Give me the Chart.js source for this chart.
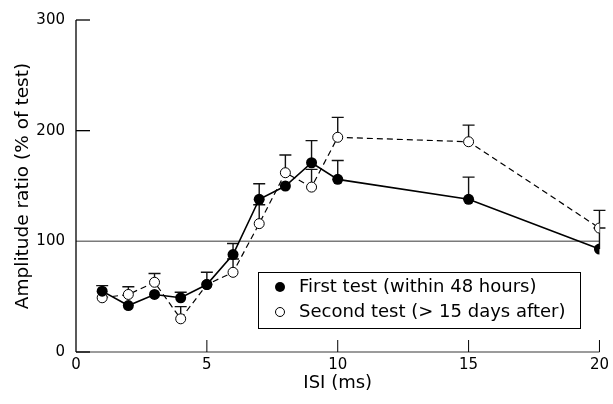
<!DOCTYPE html>
<html>
<head>
<meta charset="utf-8">
<script src="https://cdn.jsdelivr.net/npm/chart.js@4/dist/chart.umd.min.js"></script>
<style>
  html, body { margin: 0; padding: 0; background: #fff; }
  canvas { display: block; }
</style>
</head>
<body>
<canvas id="c" width="613" height="404"></canvas>
<script>
// ---- data ----
const isi = [1, 2, 3, 4, 5, 6, 7, 8, 9, 10, 15, 20];
const firstTest = [55, 42, 52, 49, 61, 88, 138, 150, 171, 156, 138, 93];
const firstErr  = [5, 0, 0, 5, 0, 10, 14, 0, 20, 17, 20, 19];
const secondTest = [49, 52, 63, 30, 61, 72, 116, 162, 149, 194, 190, 112];
const secondErr  = [0, 7, 8, 11, 11, 12, 17, 16, 16, 18, 15, 16];
const xTicks = [0, 5, 10, 15, 20];
const yTicks = [0, 100, 200, 300];
const legendLabels = ['First test (within 48 hours)', 'Second test (> 15 days after)'];
const xTitle = 'ISI (ms)';
const yTitle = 'Amplitude ratio (% of test)';

const FONT = "'DejaVu Sans', sans-serif";
const toPts = (xs, ys) => xs.map((x, i) => ({ x: x, y: ys[i] }));

const decorPlugin = {
  id: 'decor',
  beforeDatasetsDraw(chart) {
    const { ctx, chartArea: a, scales: { x, y } } = chart;
    ctx.save();
    // x axis line (gray)
    ctx.strokeStyle = '#7a7a7a';
    ctx.lineWidth = 1.5;
    ctx.beginPath();
    ctx.moveTo(a.left, y.getPixelForValue(0));
    ctx.lineTo(a.right, y.getPixelForValue(0));
    ctx.stroke();
    // reference line at 100
    ctx.beginPath();
    ctx.moveTo(a.left, y.getPixelForValue(100));
    ctx.lineTo(a.right, y.getPixelForValue(100));
    ctx.stroke();
    // y axis line
    ctx.strokeStyle = '#000';
    ctx.lineWidth = 1.3;
    ctx.beginPath();
    ctx.moveTo(a.left, y.getPixelForValue(300));
    ctx.lineTo(a.left, y.getPixelForValue(0));
    ctx.stroke();
    // y ticks (inward)
    yTicks.forEach(v => {
      if (v === 100) return;
      const py = y.getPixelForValue(v);
      ctx.beginPath();
      ctx.moveTo(a.left, py);
      ctx.lineTo(a.left + 14, py);
      ctx.stroke();
    });
    // x ticks (inward)
    ctx.lineWidth = 1;
    xTicks.forEach(v => {
      if (v === 0) return;
      const px = x.getPixelForValue(v);
      ctx.beginPath();
      ctx.moveTo(px, y.getPixelForValue(0));
      ctx.lineTo(px, y.getPixelForValue(0) - 12);
      ctx.stroke();
    });
    // error bars (upper only, T caps)
    const drawErr = (vals, errs) => {
      ctx.strokeStyle = '#111';
      ctx.lineWidth = 1.4;
      vals.forEach((v, i) => {
        if (!errs[i]) return;
        const px = x.getPixelForValue(isi[i]);
        const py0 = y.getPixelForValue(v);
        const py1 = y.getPixelForValue(v + errs[i]);
        ctx.beginPath();
        ctx.moveTo(px, py0);
        ctx.lineTo(px, py1);
        ctx.moveTo(px - 6, py1);
        ctx.lineTo(px + 6, py1);
        ctx.stroke();
      });
    };
    drawErr(secondTest, secondErr);
    drawErr(firstTest, firstErr);
    ctx.restore();
  },
  afterDraw(chart) {
    const { ctx } = chart;
    ctx.save();
    // legend box
    const bx = 258, by = 272, bw = 322, bh = 56;
    ctx.fillStyle = '#fff';
    ctx.fillRect(bx, by, bw, bh);
    ctx.strokeStyle = '#000';
    ctx.lineWidth = 1;
    ctx.strokeRect(bx + 0.5, by + 0.5, bw, bh);
    ctx.font = '18px ' + FONT;
    ctx.textBaseline = 'middle';
    ctx.fillStyle = '#000';
    const rows = [287, 312];
    // marker 1 filled
    ctx.beginPath();
    ctx.arc(280, rows[0], 5, 0, Math.PI * 2);
    ctx.fill();
    // marker 2 open
    ctx.beginPath();
    ctx.arc(280, rows[1], 4.5, 0, Math.PI * 2);
    ctx.fillStyle = '#fff';
    ctx.fill();
    ctx.strokeStyle = '#000';
    ctx.lineWidth = 1;
    ctx.stroke();
    ctx.fillStyle = '#000';
    ctx.fillText(legendLabels[0], 299, rows[0]);
    ctx.fillText(legendLabels[1], 299, rows[1]);
    ctx.restore();
  }
};

new Chart(document.getElementById('c'), {
  type: 'scatter',
  data: {
    datasets: [
      {
        label: legendLabels[1],
        data: toPts(isi, secondTest),
        showLine: true,
        borderColor: '#000',
        borderWidth: 1.2,
        borderDash: [6, 4],
        pointRadius: 5,
        pointBackgroundColor: '#fff',
        pointBorderColor: '#000',
        pointBorderWidth: 1,
        order: 2
      },
      {
        label: legendLabels[0],
        data: toPts(isi, firstTest),
        showLine: true,
        borderColor: '#000',
        borderWidth: 1.6,
        pointRadius: 5.5,
        pointBackgroundColor: '#000',
        pointBorderColor: '#000',
        pointBorderWidth: 0,
        order: 1
      }
    ]
  },
  options: {
    responsive: false,
    animation: false,
    events: [],
    layout: { padding: { top: 18, right: 9, left: 0, bottom: 0 } },
    plugins: { legend: { display: false }, tooltip: { enabled: false } },
    scales: {
      x: {
        type: 'linear',
        min: 0, max: 20,
        afterBuildTicks: s => { s.ticks = xTicks.map(v => ({ value: v })); },
        afterFit: s => { s.height = 52; },
        grid: { display: false, drawTicks: false },
        border: { display: false },
        ticks: { color: '#000', font: { size: 15, family: FONT }, padding: 4, maxRotation: 0 },
        title: { display: true, text: xTitle, color: '#000', font: { size: 18, family: FONT }, padding: { top: 0, bottom: 10 } }
      },
      y: {
        min: 0, max: 300,
        afterBuildTicks: s => { s.ticks = yTicks.map(v => ({ value: v })); },
        afterFit: s => { s.width = 76; },
        grid: { display: false, drawTicks: false },
        border: { display: false },
        ticks: { color: '#000', font: { size: 15, family: FONT }, padding: 11 },
        title: { display: true, text: yTitle, color: '#000', font: { size: 18.5, family: FONT }, padding: { top: 12, bottom: 0 } }
      }
    }
  },
  plugins: [decorPlugin]
});
</script>
</body>
</html>
